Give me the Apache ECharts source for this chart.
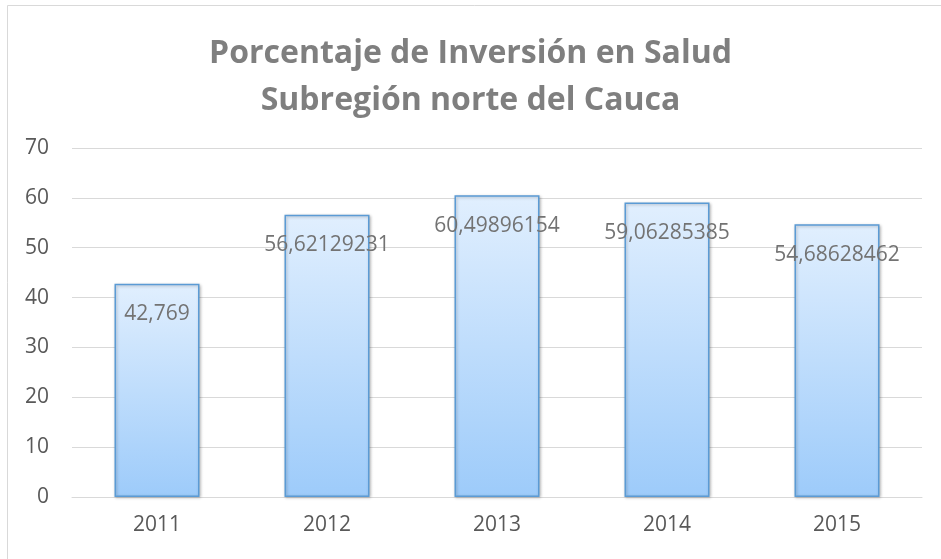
<!DOCTYPE html>
<html>
<head>
<meta charset="utf-8">
<script src="https://cdn.jsdelivr.net/npm/echarts@6/dist/echarts.min.js"></script>
<style>
  html, body { margin: 0; padding: 0; background: #fff; }
  #main { width: 941px; height: 559px; }
</style>
</head>
<body>
<div id="main"></div>
<script>
// datos
const years = ['2011', '2012', '2013', '2014', '2015'];
const inversion = [42.769, 56.62129231, 60.49896154, 59.06285385, 54.68628462];
const yTicks = [0, 10, 20, 30, 40, 50, 60, 70];

const chart = echarts.init(document.getElementById('main'));
chart.setOption({
    backgroundColor: '#fff',
    textStyle: { fontFamily: '"Open Sans", "Noto Sans", sans-serif' },
    title: {
        text: 'Porcentaje de Inversión en Salud\nSubregión norte del Cauca',
        left: 'center',
        top: 25,
        textStyle: {
            color: '#7f7f7f',
            fontSize: 32,
            fontWeight: 'bold',
            lineHeight: 47,
            fontFamily: '"Open Sans", sans-serif'
        }
    },
    graphic: [{
        type: 'rect',
        shape: { x: 7.5, y: 5.5, width: 960, height: 600 },
        style: { fill: 'none', stroke: '#d9d9d9', lineWidth: 1 },
        silent: true
    }],
    grid: { left: 72, right: 19, top: 148, bottom: 62 },
    xAxis: {
        type: 'category',
        data: years,
        axisLine: { lineStyle: { color: '#d9d9d9' } },
        axisTick: { show: false },
        axisLabel: { color: '#595959', fontSize: 21, margin: 18 }
    },
    yAxis: {
        type: 'value',
        min: yTicks[0],
        max: yTicks[yTicks.length - 1],
        interval: 10,
        axisLine: { show: false },
        axisTick: { show: false },
        axisLabel: { color: '#595959', fontSize: 21, margin: 23 },
        splitLine: { lineStyle: { color: '#d9d9d9' } }
    },
    series: [{
        type: 'bar',
        data: inversion,
        barWidth: '50%',
        itemStyle: {
            color: new echarts.graphic.LinearGradient(0, 0, 0, 1, [
                { offset: 0, color: '#e1effe' },
                { offset: 1, color: '#9dcbfa' }
            ]),
            borderColor: '#5b9bd5',
            borderWidth: 1.5,
            shadowColor: 'rgba(0,0,0,0.25)',
            shadowBlur: 3,
            shadowOffsetX: 1,
            shadowOffsetY: 1
        },
        label: {
            show: true,
            position: 'insideTop',
            distance: 20,
            color: '#737373',
            fontSize: 21,
            formatter: function (p) {
                return String(p.value).replace('.', ',');
            }
        }
    }]
});
</script>
</body>
</html>
